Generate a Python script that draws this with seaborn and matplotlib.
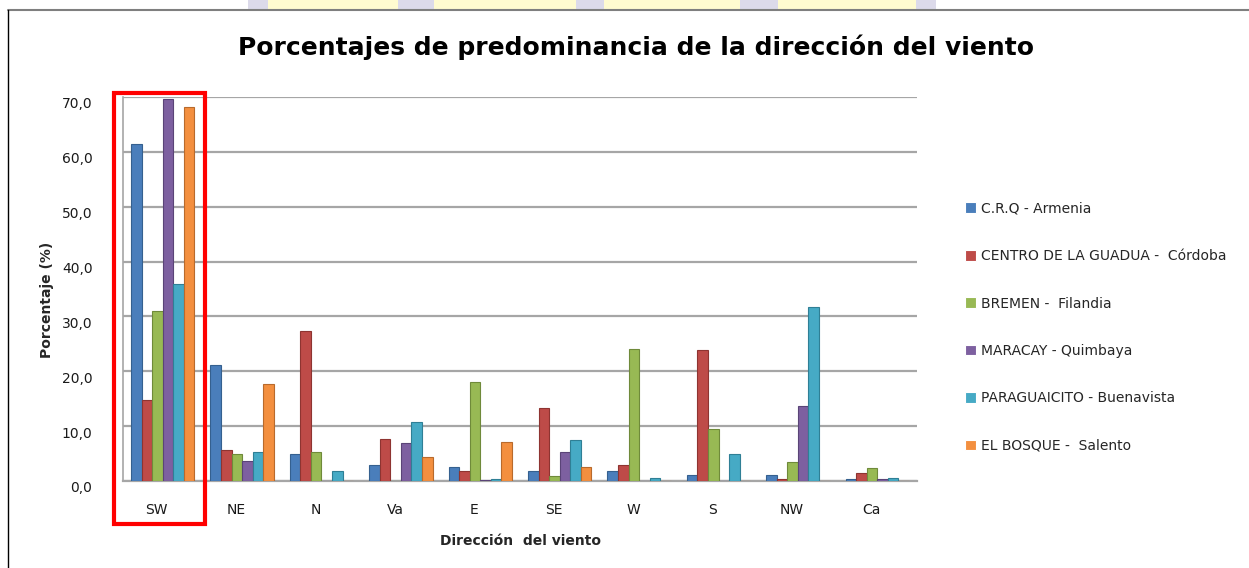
import numpy as np
import pandas as pd
import matplotlib
matplotlib.use("Agg")
import matplotlib.pyplot as plt
from matplotlib.patches import Rectangle
from matplotlib.lines import Line2D
from matplotlib.ticker import FuncFormatter
from matplotlib.transforms import ScaledTranslation
import seaborn as sns

direcciones = ["SW", "NE", "N", "Va", "E", "SE", "W", "S", "NW", "Ca"]
estaciones = ["C.R.Q - Armenia", "CENTRO DE LA GUADUA -  Córdoba", "BREMEN -  Filandia",
              "MARACAY - Quimbaya", "PARAGUAICITO - Buenavista", "EL BOSQUE -  Salento"]
crq = [61.5, 21.2, 4.9, 2.9, 2.6, 1.9, 1.9, 1.1, 1.1, 0.3]
guadua = [14.7, 5.6, 27.4, 7.6, 1.8, 13.3, 2.9, 23.9, 0.4, 1.5]
bremen = [31.0, 5.0, 5.2, 0.0, 18.1, 0.9, 24.0, 9.4, 3.4, 2.3]
maracay = [69.6, 3.7, 0.0, 6.9, 0.2, 5.3, 0.0, 0.0, 13.7, 0.3]
paraguaicito = [36.0, 5.3, 1.8, 10.7, 0.4, 7.4, 0.5, 5.0, 31.8, 0.6]
bosque = [68.1, 17.7, 0.0, 4.3, 7.2, 2.6, 0.0, 0.0, 0.0, 0.0]
colores = ["#4A7EBB", "#BE4B48", "#98B954", "#7D60A0", "#46AAC5", "#F38F3F"]
bordes = ["#35608F", "#8E3431", "#6F8A3A", "#5A4477", "#2F7F95", "#B86A2C"]

series = [crq, guadua, bremen, maracay, paraguaicito, bosque]
df = pd.DataFrame({
    "dir": np.tile(direcciones, len(estaciones)),
    "est": np.repeat(estaciones, len(direcciones)),
    "val": np.concatenate(series),
})

sns.set_style("white")
plt.rcParams["font.family"] = ["DejaVu Sans"]

W, H = 1249, 568
fig = plt.figure(figsize=(W / 100, H / 100), dpi=100)
ax = fig.add_axes([123 / W, 1 - 481 / H, (917 - 123) / W, (481 - 97) / H])

sns.barplot(data=df, x="dir", y="val", hue="est", order=direcciones,
            hue_order=estaciones, palette=colores, width=0.8, saturation=1,
            errorbar=None, ax=ax, linewidth=0.8, zorder=3)
for cont, ec in zip(ax.containers, bordes):
    for p in cont:
        p.set_edgecolor(ec)

ax.set_ylim(0, 70)
ax.set_xlim(-0.5, 9.5)
ax.set_yticks(np.arange(0, 71, 10))
ax.yaxis.set_major_formatter(FuncFormatter(lambda v, p: f"{v:.1f}".replace(".", ",")))
ax.grid(axis="y", color="#A6A6A6", linewidth=1.6, zorder=0)
ax.set_axisbelow(True)
for s in ["top", "right"]:
    ax.spines[s].set_visible(False)
ax.spines["left"].set_color("#A6A6A6")
ax.spines["bottom"].set_color("#A6A6A6")
ax.spines["left"].set_linewidth(1.2)
ax.spines["bottom"].set_linewidth(1.6)
ax.tick_params(axis="y", length=0, pad=22, labelsize=10, labelcolor="#1a1a1a")
ax.tick_params(axis="x", length=0, pad=16, labelsize=10, labelcolor="#1a1a1a")
for lab in ax.get_yticklabels():
    lab.set_transform(lab.get_transform() + ScaledTranslation(0, -6 / 100, fig.dpi_scale_trans))
for lab in ax.get_xticklabels():
    lab.set_transform(lab.get_transform() + ScaledTranslation(-6 / 100, 0, fig.dpi_scale_trans))
ax.set_xlabel("Dirección  del viento", fontsize=10, fontweight="bold", labelpad=12)
ax.set_ylabel("Porcentaje (%)", fontsize=10, fontweight="bold", labelpad=16)
ax.yaxis.set_label_coords(-(123 - 54) / (917 - 123), (481 - 300) / (481 - 97))

fig.text(636 / W, 1 - 47 / H, "Porcentajes de predominancia de la dirección del viento",
         ha="center", va="center", fontsize=18, fontweight="bold", color="black")

h, l = ax.get_legend_handles_labels()
ax.legend(h, l, loc="upper left", bbox_to_anchor=(959 / W, 1 - 196 / H),
          bbox_transform=fig.transFigure, frameon=False, fontsize=10,
          handlelength=0.8, handleheight=0.8, handletextpad=0.4,
          labelspacing=2.41, borderaxespad=0)

# highlight rectangle
fig.add_artist(Rectangle((114 / W, 1 - 524 / H), (205 - 114) / W, (524 - 93) / H,
                         transform=fig.transFigure, fill=False, edgecolor="#FF0000",
                         linewidth=3, zorder=10))

# screenshot frame
fig.add_artist(Line2D([8 / W, 1], [1 - 10 / H, 1 - 10 / H], transform=fig.transFigure,
                      color="#7F7F7F", linewidth=1.5))
fig.add_artist(Line2D([8 / W, 8 / W], [0, 1 - 10 / H], transform=fig.transFigure,
                      color="#000000", linewidth=1))
tiles = [(248, 268, "#DCDAEA"), (268, 398, "#FFFBD0"), (398, 434, "#DCDAEA"),
         (434, 576, "#FFFBD0"), (576, 604, "#DCDAEA"), (604, 740, "#FFFBD0"),
         (740, 778, "#DCDAEA"), (778, 916, "#FFFBD0"), (916, 936, "#DCDAEA")]
for x0, x1, c in tiles:
    fig.add_artist(Rectangle((x0 / W, 1 - 9 / H), (x1 - x0) / W, 9 / H,
                             transform=fig.transFigure, color=c, linewidth=0))

fig.savefig("out.png", dpi=100)
